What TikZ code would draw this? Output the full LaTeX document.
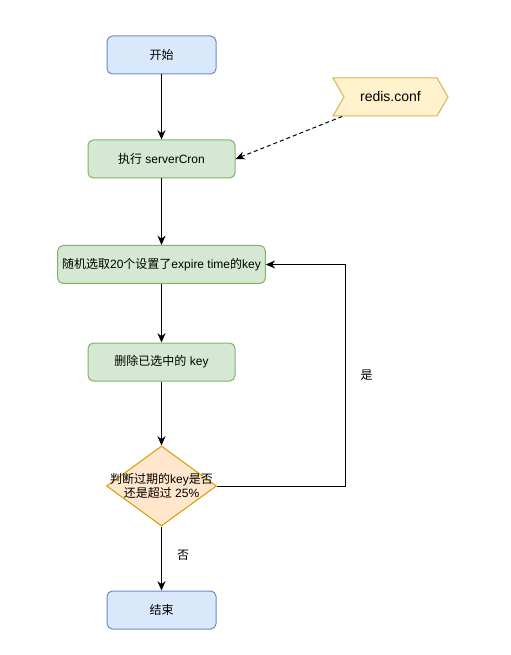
\documentclass[tikz,border=0pt]{standalone}
\usepackage{fontspec}
\setmainfont{Liberation Sans}
\newfontfamily\cjk{Noto Sans CJK SC}
\usetikzlibrary{arrows.meta,shapes.geometric,shapes.symbols}
\definecolor{blueFill}{HTML}{DAE8FC}
\definecolor{blueLine}{HTML}{6C8EBF}
\definecolor{greenFill}{HTML}{D5E8D4}
\definecolor{greenLine}{HTML}{82B366}
\definecolor{yellowFill}{HTML}{FFF2CC}
\definecolor{yellowLine}{HTML}{D6B656}
\definecolor{orangeFill}{HTML}{FFE6CC}
\definecolor{orangeLine}{HTML}{D79B00}
\begin{document}
\begin{tikzpicture}[
	x=0.75pt,y=-0.75pt,
	>={Stealth[length=7pt,width=6pt]},
	line width=0.75pt,
	font=\fontsize{9pt}{11pt}\selectfont,
	terminal/.style={draw=blueLine,fill=blueFill,rounded corners=4pt,minimum width=81.75pt,minimum height=28.5pt},
	process/.style={draw=greenLine,fill=greenFill,rounded corners=4pt,minimum width=110.25pt,minimum height=28.5pt},
	decision/.style={draw=orangeLine,fill=orangeFill,diamond,minimum width=82.5pt,minimum height=60pt,inner sep=0pt},
	config/.style={draw=yellowLine,fill=yellowFill,signal,signal to=east,signal from=west,minimum width=86.25pt,minimum height=28.5pt,signal pointer angle=120},
	flow/.style={->,black}
	]
	\useasboundingbox (0,0) rectangle (510,655);
	\node[terminal] (start) at (161.5,55) {\cjk 开始};
	\node[process] (cron) at (161.5,159) {{\cjk 执行} serverCron};
	\node[config,font=\fontsize{10.5pt}{12pt}\selectfont] (conf) at (390.5,97) {redis.conf};
	\node[process,minimum width=155.25pt] (pick) at (161.5,264.5) {{\cjk 随机选取}20{\cjk 个设置了}expire time{\cjk 的}key};
	\node[process] (del) at (161.5,362) {{\cjk 删除已选中的} key};
	\node[decision] (check) at (161.5,486) {};
	\node[align=center,inner sep=0pt] (checktext) at (check) {{\cjk 判断过期的}key{\cjk 是否}\\{\cjk 还是超过} 25\%};
	\node[terminal] (stop) at (161.5,610) {\cjk 结束};
	\coordinate (loop) at (345,486);
	\begin{scope}[flow]
		\draw (start) -- (cron);
		\draw (cron) -- (pick);
		\draw (pick) -- (del);
		\draw (del) -- (check);
		\draw (check) -- node[pos=0.45,right=8pt] {\cjk 否} (stop);
		\draw (check.east) -- (loop) |- node[pos=0.25,right=8pt] {\cjk 是} (pick.east);
		\draw[dashed,dash pattern=on 3pt off 2.25pt] ([xshift=7.5pt]conf.south west) -- (cron.east);
	\end{scope}
\end{tikzpicture}
\end{document}
